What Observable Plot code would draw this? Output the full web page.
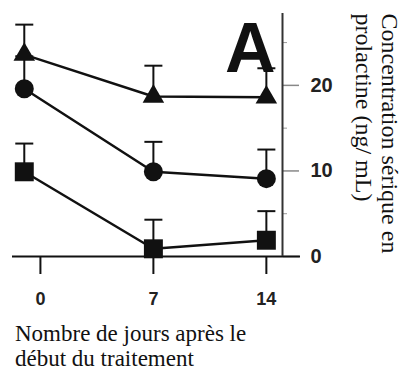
<!DOCTYPE html>
<html>
<head>
<meta charset="utf-8">
<script src="https://cdn.jsdelivr.net/npm/d3@7"></script>
<script src="https://cdn.jsdelivr.net/npm/@observablehq/plot@0.6"></script>
<style>
  html, body { margin: 0; padding: 0; background: #fff; }
  #chart svg { display: block; }
  .caption {
    font-family: "Liberation Serif", "DejaVu Serif", serif;
    font-size: 23px;
    line-height: 25px;
    color: #111;
    margin: 11px 0 0 15px;
  }
</style>
</head>
<body>
<div id="chart"></div>
<div class="caption">Nombre de jours après le<br>début du traitement</div>
<script>
// Sampling days (baseline sample drawn just before day 0)
const sampleDays = [-1, 7, 14];
const dayTicks = [0, 7, 14];

// Serum prolactin, mean and upper error limit (ng/mL), per group
const triangleMean = [23.6, 18.7, 18.6];
const triangleUpper = [27.1, 22.3, 22.0];
const circleMean = [19.6, 9.9, 9.1];
const circleUpper = [23.4, 13.4, 12.5];
const squareMean = [9.9, 0.9, 1.9];
const squareUpper = [13.2, 4.3, 5.3];

const concTicks = [0, 10, 20];
const concMinorTicks = [5, 15, 25];

const panelLetter = "A";
const yTitle = "Concentration sérique en\nprolactine (ng/ mL)";

const xDomain = [-1.73, 15];
const yDomain = [0, 28.4];

const groups = [
  {group: "triangle", mean: triangleMean, upper: triangleUpper},
  {group: "circle", mean: circleMean, upper: circleUpper},
  {group: "square", mean: squareMean, upper: squareUpper}
];
const rows = groups.flatMap(g =>
  sampleDays.map((day, i) => ({day, group: g.group, mean: g.mean[i], upper: g.upper[i]}))
);

// Horizontal cap for the error bars
const capSymbol = {
  draw(context, size) {
    const w = Math.sqrt(size / Math.PI);
    context.moveTo(-w, 0);
    context.lineTo(w, 0);
  }
};

const ink = "#111";
const serif = "'Liberation Serif', 'DejaVu Serif', serif";

const chart = Plot.plot({
  width: 406,
  height: 310,
  marginLeft: 12,
  marginRight: 124,
  marginTop: 13,
  marginBottom: 54,
  style: {fontFamily: "'Liberation Sans', Arial, sans-serif", background: "#fff", overflow: "visible"},
  x: {domain: xDomain, label: null},
  y: {domain: yDomain, label: null},
  marks: [
    Plot.axisX({ticks: dayTicks, tickSize: 18, tickPadding: 18, fontSize: 18, fontWeight: "bold", stroke: ink, strokeWidth: 2, fill: "#222", label: null}),
    Plot.axisY({anchor: "right", ticks: concTicks, tickSize: 16, tickPadding: 12, fontSize: 20, fontWeight: "bold", stroke: "#888", strokeWidth: 1.5, fill: "#222", label: null}),
    Plot.axisY({anchor: "right", ticks: concMinorTicks, tickSize: 4, tickFormat: () => "", stroke: "#999", strokeWidth: 1, label: null}),
    Plot.ruleY([0], {stroke: ink, strokeWidth: 2, insetRight: -18}),
    Plot.ruleX([xDomain[1]], {stroke: "#333", strokeWidth: 2}),
    Plot.line(rows, {x: "day", y: "mean", z: "group", stroke: ink, strokeWidth: 2.5}),
    Plot.ruleX(rows, {x: "day", y1: "mean", y2: "upper", stroke: ink, strokeWidth: 2}),
    Plot.dot(rows, {x: "day", y: "upper", symbol: capSymbol, r: 9, fill: "none", stroke: ink, strokeWidth: 2}),
    Plot.dot(rows, {filter: d => d.group === "triangle", x: "day", y: "mean", symbol: "triangle", r: 8, fill: ink, stroke: "none"}),
    Plot.dot(rows, {filter: d => d.group === "circle", x: "day", y: "mean", symbol: "circle", r: 9.5, fill: ink, stroke: "none"}),
    Plot.dot(rows, {filter: d => d.group === "square", x: "day", y: "mean", symbol: "square", r: 10.7, fill: ink, stroke: "none"}),
    Plot.text([panelLetter], {frameAnchor: "top-right", textAnchor: "end", lineAnchor: "top", dx: -7, dy: 9, fontSize: 70, fontWeight: "bold", fill: ink}),
    Plot.text([yTitle], {frameAnchor: "top-right", rotate: 90, textAnchor: "start", lineAnchor: "top", dx: 118, dy: 0, fontSize: 24, lineHeight: 1.08, fontFamily: serif, fill: ink})
  ]
});

document.getElementById("chart").appendChild(chart);
</script>
</body>
</html>
